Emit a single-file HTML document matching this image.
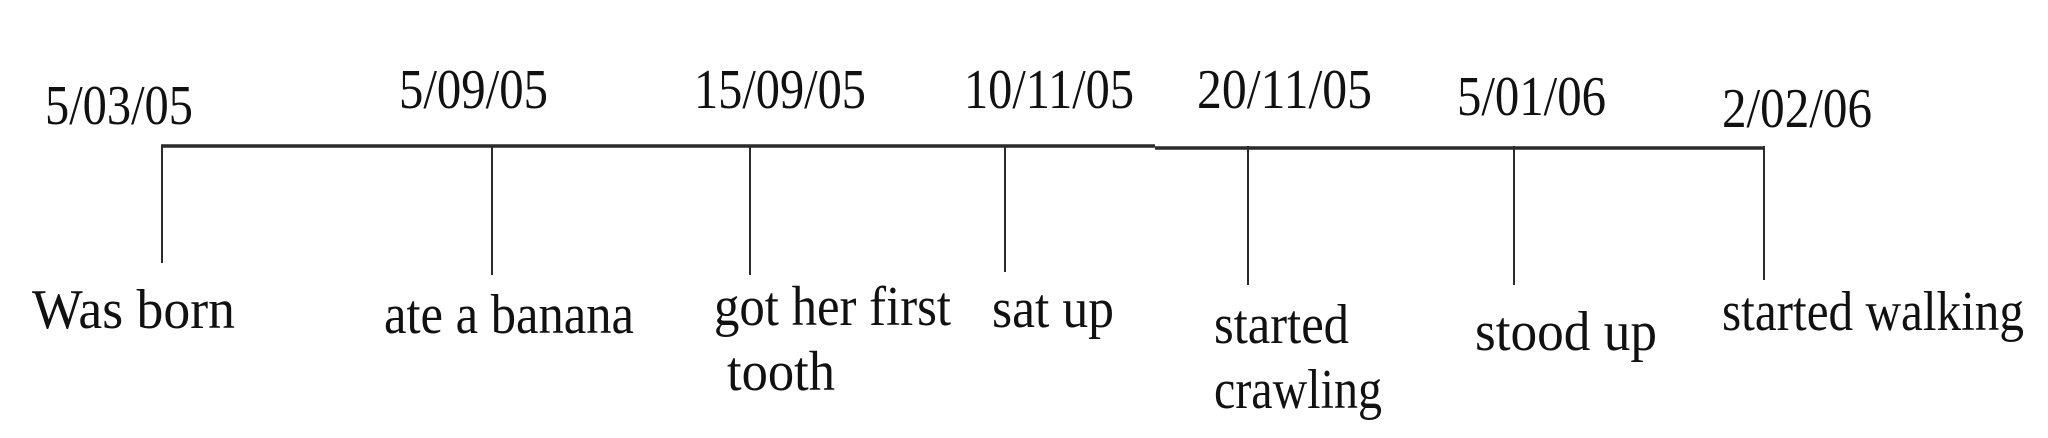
<!DOCTYPE html>
<html><head><meta charset="utf-8"><style>
html,body{margin:0;padding:0;background:#fff;width:2048px;height:438px;overflow:hidden}
svg{display:block}
text{font-family:"Liberation Serif",serif;font-size:56px;fill:#111}
</style></head><body>
<svg width="2048" height="438" viewBox="0 0 2048 438" xmlns="http://www.w3.org/2000/svg">
<g stroke="#2a2a2a" fill="none">
<line x1="161" y1="146" x2="1155" y2="146" stroke-width="3.5"/>
<line x1="1155" y1="148" x2="1765" y2="148" stroke-width="3.5"/>
<line x1="162" y1="146" x2="162" y2="263" stroke-width="2"/>
<line x1="492" y1="146" x2="492" y2="275" stroke-width="2"/>
<line x1="750" y1="146" x2="750" y2="275" stroke-width="2"/>
<line x1="1005" y1="146" x2="1005" y2="272" stroke-width="2"/>
<line x1="1248" y1="146" x2="1248" y2="285" stroke-width="2"/>
<line x1="1514" y1="146" x2="1514" y2="285" stroke-width="2"/>
<line x1="1764" y1="146" x2="1764" y2="280" stroke-width="2"/>
</g>
<g lengthAdjust="spacingAndGlyphs">
<text x="45" y="124" textLength="148" lengthAdjust="spacingAndGlyphs">5/03/05</text>
<text x="399" y="108" textLength="149" lengthAdjust="spacingAndGlyphs">5/09/05</text>
<text x="694" y="108" textLength="172" lengthAdjust="spacingAndGlyphs">15/09/05</text>
<text x="964" y="108" textLength="170" lengthAdjust="spacingAndGlyphs">10/11/05</text>
<text x="1197" y="108" textLength="175" lengthAdjust="spacingAndGlyphs">20/11/05</text>
<text x="1457" y="115" textLength="149" lengthAdjust="spacingAndGlyphs">5/01/06</text>
<text x="1722" y="127" textLength="150" lengthAdjust="spacingAndGlyphs">2/02/06</text>
<text x="32" y="328" textLength="203" lengthAdjust="spacingAndGlyphs">Was born</text>
<text x="384" y="333" textLength="250" lengthAdjust="spacingAndGlyphs">ate a banana</text>
<text x="714" y="325" textLength="237" lengthAdjust="spacingAndGlyphs">got her first</text>
<text x="727" y="390" textLength="108" lengthAdjust="spacingAndGlyphs">tooth</text>
<text x="992" y="327" textLength="122" lengthAdjust="spacingAndGlyphs">sat up</text>
<text x="1214" y="343" textLength="135" lengthAdjust="spacingAndGlyphs">started</text>
<text x="1214" y="408" textLength="168" lengthAdjust="spacingAndGlyphs">crawling</text>
<text x="1475" y="350" textLength="182" lengthAdjust="spacingAndGlyphs">stood up</text>
<text x="1722" y="330" textLength="302" lengthAdjust="spacingAndGlyphs">started walking</text>
</g>
</svg>
</body></html>
